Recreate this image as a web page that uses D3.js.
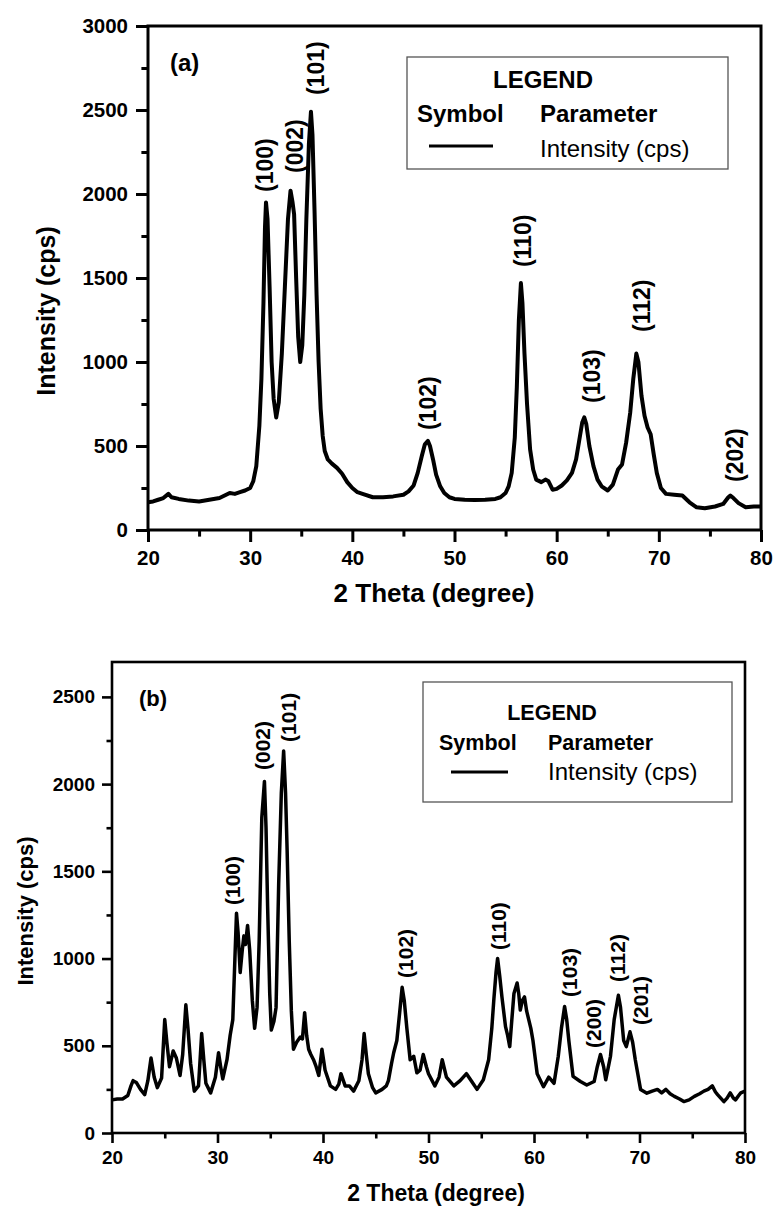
<!DOCTYPE html>
<html>
<head>
<meta charset="utf-8">
<script src="https://cdn.jsdelivr.net/npm/d3@7"></script>
<style>
  body { margin: 0; background: #fff; }
  svg { display: block; font-family: "Liberation Sans", Arial, sans-serif; }
</style>
</head>
<body>
<div id="chart"></div>
<script>
// ---- data ----
// panel (a)
var thetaA = [20.0, 20.5, 21.0, 21.5, 22.0, 22.3, 23.0, 24.0, 25.0, 26.0, 27.0, 27.5, 28.0, 28.5, 29.0, 29.5, 30.0, 30.3, 30.6, 30.9,
  31.1, 31.3, 31.45, 31.55, 31.7, 31.9, 32.1, 32.3, 32.55, 32.8, 33.1, 33.4, 33.7, 33.95, 34.15, 34.3, 34.5, 34.7, 34.9, 35.1,
  35.3, 35.5, 35.75, 35.95, 36.1, 36.3, 36.5, 36.7, 36.9, 37.1, 37.3, 37.6, 38.0, 38.5, 39.0, 39.5, 40.0, 40.5, 41.0, 42.0,
  43.0, 44.0, 45.0, 45.5, 46.0, 46.4, 46.8, 47.1, 47.4, 47.6, 47.9, 48.2, 48.6, 49.0, 49.5, 50.0, 51.0, 52.0, 53.0, 54.0,
  54.5, 55.0, 55.3, 55.6, 55.9, 56.1, 56.3, 56.5, 56.65, 56.85, 57.1, 57.4, 57.7, 58.0, 58.5, 58.9, 59.2, 59.6, 60.0, 60.5,
  61.0, 61.5, 61.9, 62.2, 62.5, 62.7, 62.9, 63.2, 63.6, 64.0, 64.4, 65.0, 65.5, 66.0, 66.4, 66.8, 67.2, 67.5, 67.8, 68.0,
  68.3, 68.6, 68.9, 69.2, 69.5, 69.8, 70.2, 70.7, 71.5, 72.3, 73.0, 73.7, 74.5, 75.5, 76.3, 76.8, 77.0, 77.3, 77.8, 78.5,
  79.3, 80.0];
var intensityA = [165, 170, 180, 190, 215, 195, 185, 175, 170, 180, 190, 205, 220, 215, 225, 235, 250, 290, 380, 620,
  900, 1350, 1800, 1950, 1850, 1450, 1000, 780, 670, 760, 1050, 1450, 1850, 2020, 1950, 1880, 1500, 1150, 1000, 1100,
  1400, 1850, 2300, 2490, 2350, 1900, 1400, 1000, 720, 560, 470, 420, 395, 370, 335, 285, 250, 225, 215, 195,
  195, 200, 210, 230, 265, 340, 440, 510, 530, 500, 420, 330, 260, 220, 195, 185, 180, 178, 180, 185,
  195, 220, 260, 340, 550, 850, 1250, 1470, 1350, 1050, 750, 480, 360, 300, 285, 300, 290, 240, 245, 265,
  295, 340, 420, 530, 640, 670, 630, 500, 380, 300, 260, 235, 270, 360, 390, 520, 700, 900, 1050, 1000,
  800, 680, 610, 570, 450, 340, 250, 215, 210, 205, 165, 135, 130, 140, 155, 195, 205, 190, 160, 135,
  140, 140];
var peakNamesA = ["(100)", "(002)", "(101)", "(102)", "(110)", "(103)", "(112)", "(202)"];
var peakThetaA = [31.45, 34.38, 36.44, 47.4, 56.7, 63.45, 68.34, 77.44];
var peakLevelA = [2012, 2125, 2589, 595, 1565, 756, 1179, 286];

// panel (b)
var thetaB = [20.0, 20.5, 21.0, 21.5, 21.8, 22.0, 22.3, 22.7, 23.1, 23.4, 23.7, 24.0, 24.3, 24.7, 25.0, 25.2, 25.45, 25.8, 26.1, 26.45,
  26.7, 27.0, 27.2, 27.45, 27.8, 28.2, 28.5, 28.7, 28.9, 29.35, 29.8, 30.1, 30.3, 30.5, 30.9, 31.2, 31.45, 31.65, 31.8, 31.95,
  32.15, 32.35, 32.5, 32.65, 32.85, 33.05, 33.3, 33.52, 33.75, 33.95, 34.2, 34.45, 34.6, 34.75, 34.95, 35.1, 35.35, 35.55, 35.8, 36.05,
  36.27, 36.45, 36.6, 36.8, 37.0, 37.2, 37.5, 37.85, 38.05, 38.26, 38.45, 38.64, 38.85, 39.1, 39.35, 39.6, 39.9, 40.2, 40.7, 41.2,
  41.5, 41.7, 42.1, 42.5, 42.9, 43.4, 43.7, 43.9, 44.1, 44.3, 44.7, 45.0, 45.6, 46.0, 46.2, 46.5, 46.7, 47.0, 47.25, 47.5,
  47.7, 47.95, 48.26, 48.6, 48.9, 49.2, 49.5, 49.8, 50.0, 50.6, 51.0, 51.3, 51.7, 52.4, 53.0, 53.6, 54.1, 54.6, 55.2, 55.7,
  56.0, 56.2, 56.4, 56.55, 56.75, 56.96, 57.3, 57.5, 57.7, 57.9, 58.1, 58.4, 58.55, 58.7, 58.9, 59.1, 59.3, 59.5, 59.7, 59.9,
  60.3, 60.9, 61.4, 61.9, 62.3, 62.6, 62.9, 63.1, 63.3, 63.7, 64.4, 65.0, 65.7, 66.0, 66.3, 66.6, 66.8, 67.25, 67.6, 68.0,
  68.2, 68.5, 68.75, 69.1, 69.35, 69.6, 70.1, 70.7, 71.2, 71.7, 72.1, 72.5, 72.9, 73.3, 73.8, 74.2, 74.7, 75.2, 75.7, 76.1,
  76.5, 76.9, 77.2, 77.4, 77.7, 78.0, 78.3, 78.6, 78.9, 79.1, 79.4, 79.6, 80.0];
var intensityB = [190, 195, 195, 215, 270, 300, 290, 250, 220, 300, 430, 320, 260, 315, 650, 520, 380, 470, 430, 330,
  450, 735, 600, 400, 240, 270, 570, 420, 285, 230, 320, 460, 380, 310, 420, 560, 650, 1000, 1260, 1150,
  920, 1050, 1130, 1080, 1190, 1050, 760, 600, 720, 1100, 1810, 2015, 1750, 1300, 800, 590, 640, 720, 1430, 1950,
  2190, 1950, 1620, 1100, 700, 480, 520, 550, 540, 690, 560, 480, 450, 420, 380, 330, 480, 360, 270, 250,
  280, 340, 270, 270, 240, 300, 420, 570, 450, 340, 260, 230, 250, 270, 300, 400, 460, 530, 680, 835,
  760, 600, 420, 440, 345, 360, 450, 380, 340, 270, 320, 420, 320, 270, 300, 340, 295, 250, 305, 420,
  600, 770, 920, 1000, 900, 780, 610, 560, 495, 650, 800, 860, 800, 705, 760, 780, 700, 650, 600, 530,
  340, 265, 320, 285, 440, 600, 725, 650, 530, 325, 295, 275, 295, 380, 450, 380, 305, 440, 650, 790,
  720, 530, 495, 580, 520, 420, 250, 228, 240, 250, 230, 250, 225, 210, 195, 180, 190, 210, 225, 240,
  250, 270, 235, 220, 200, 180, 200, 230, 200, 190, 215, 230, 240];
var peakNamesB = ["(100)", "(002)", "(101)", "(102)", "(110)", "(103)", "(200)", "(112)", "(201)"];
var peakThetaB = [31.37, 34.22, 36.68, 47.77, 56.59, 63.32, 65.59, 67.87, 70.05];
var peakLevelB = [1307, 2081, 2242, 889, 1049, 780, 487, 866, 619];

var xMajor = [20, 30, 40, 50, 60, 70, 80];
var xMinor = [25, 35, 45, 55, 65, 75];
var yMajorA = [0, 500, 1000, 1500, 2000, 2500, 3000];
var yMinorA = [250, 750, 1250, 1750, 2250, 2750];
var yMajorB = [0, 500, 1000, 1500, 2000, 2500];
var yMinorB = [250, 750, 1250, 1750, 2250];

// ---- drawing ----
var svg = d3.select("#chart")
  .append("svg")
  .attr("width", 774)
  .attr("height", 1207);

svg.append("rect").attr("width", 774).attr("height", 1207).attr("fill", "#fff");

function drawPanel(p) {
  var x = d3.scaleLinear().domain([20, 80]).range([p.left, p.right]);
  var y = d3.scaleLinear().domain([0, p.yMax]).range([p.bottom, p.top]);
  var g = svg.append("g");

  // axes (major + minor)
  g.append("g")
    .attr("transform", "translate(0," + p.bottom + ")")
    .call(d3.axisBottom(x).tickValues(xMajor).tickSize(p.tick).tickPadding(p.xPad).tickFormat(d3.format("d")));
  g.append("g")
    .attr("transform", "translate(0," + p.bottom + ")")
    .call(d3.axisBottom(x).tickValues(xMinor).tickSize(p.tick * 0.55).tickFormat(""));
  g.append("g")
    .attr("transform", "translate(" + p.left + ",0)")
    .call(d3.axisLeft(y).tickValues(p.yMajor).tickSize(p.tick).tickPadding(p.yPad).tickFormat(d3.format("d")));
  g.append("g")
    .attr("transform", "translate(" + p.left + ",0)")
    .call(d3.axisLeft(y).tickValues(p.yMinor).tickSize(p.tick * 0.55).tickFormat(""));

  g.selectAll(".domain").remove();
  g.selectAll(".tick line").attr("stroke", "#000").attr("stroke-width", p.frame);
  g.selectAll(".tick text")
    .attr("fill", "#000")
    .style("font-size", p.tickFont + "px")
    .style("font-weight", "bold")
    .style("font-family", "'Liberation Sans', Arial, sans-serif");

  // curve
  var line = d3.line()
    .x(function(d) { return x(d[0]); })
    .y(function(d) { return y(d[1]); });
  g.append("path")
    .datum(d3.zip(p.theta, p.intensity))
    .attr("d", line)
    .attr("fill", "none")
    .attr("stroke", "#000")
    .attr("stroke-width", p.curveWidth)
    .attr("stroke-linejoin", "round");

  // frame
  g.append("rect")
    .attr("x", p.left).attr("y", p.top)
    .attr("width", p.right - p.left).attr("height", p.bottom - p.top)
    .attr("fill", "none").attr("stroke", "#000").attr("stroke-width", p.frame);

  // peak labels
  g.selectAll(".peak")
    .data(p.names)
    .enter()
    .append("text")
    .attr("class", "peak")
    .attr("transform", function(d, i) {
      return "translate(" + x(p.peakTheta[i]) + "," + y(p.peakLevel[i]) + ") rotate(-90)";
    })
    .attr("dy", "0.36em")
    .style("font-size", p.peakFont + "px")
    .style("font-weight", "bold")
    .text(function(d) { return d; });

  // panel tag
  g.append("text")
    .attr("x", p.tagX).attr("y", p.tagY)
    .style("font-size", p.tagFont + "px")
    .style("font-weight", "bold")
    .text(p.tag);

  // axis titles
  g.append("text")
    .attr("x", p.xTitleX).attr("y", p.xTitleY)
    .attr("text-anchor", "middle")
    .style("font-size", p.titleFont + "px")
    .style("font-weight", "bold")
    .text("2 Theta (degree)");
  g.append("text")
    .attr("transform", "translate(" + p.yTitleX + "," + p.yTitleY + ") rotate(-90)")
    .attr("text-anchor", "middle")
    .style("font-size", p.yTitleFont + "px")
    .style("font-weight", "bold")
    .text("Intensity (cps)");

  // legend box
  var L = p.legend;
  g.append("rect")
    .attr("x", L.x0).attr("y", L.y0)
    .attr("width", L.x1 - L.x0).attr("height", L.y1 - L.y0)
    .attr("fill", "#fff").attr("stroke", "#555").attr("stroke-width", 1.3);
  g.append("text")
    .attr("x", L.cx).attr("y", L.row1)
    .attr("text-anchor", "middle")
    .style("font-size", L.bold + "px").style("font-weight", "bold")
    .text("LEGEND");
  g.append("text")
    .attr("x", L.col1).attr("y", L.row2)
    .style("font-size", L.bold + "px").style("font-weight", "bold")
    .text("Symbol");
  g.append("text")
    .attr("x", L.col2).attr("y", L.row2)
    .style("font-size", L.bold + "px").style("font-weight", "bold")
    .text("Parameter");
  g.append("line")
    .attr("x1", L.lx0).attr("x2", L.lx1)
    .attr("y1", L.ly).attr("y2", L.ly)
    .attr("stroke", "#000").attr("stroke-width", 3);
  g.append("text")
    .attr("x", L.col2).attr("y", L.row3)
    .style("font-size", L.reg + "px")
    .text("Intensity (cps)");
}

drawPanel({
  left: 148, right: 761, top: 26, bottom: 530, yMax: 3000,
  yMajor: yMajorA, yMinor: yMinorA,
  theta: thetaA, intensity: intensityA,
  names: peakNamesA, peakTheta: peakThetaA, peakLevel: peakLevelA,
  frame: 3, tick: 12, xPad: 8, yPad: 8, tickFont: 20.5, peakFont: 23, curveWidth: 4,
  tag: "(a)", tagX: 170, tagY: 71, tagFont: 24,
  xTitleX: 434, xTitleY: 602, titleFont: 26,
  yTitleX: 55, yTitleY: 311, yTitleFont: 25,
  legend: { x0: 407, x1: 728, y0: 57, y1: 169, cx: 543, row1: 88, row2: 122, row3: 157,
            col1: 417, col2: 540, lx0: 429, lx1: 493, ly: 146, bold: 24, reg: 24 }
});

drawPanel({
  left: 112, right: 745, top: 662, bottom: 1133, yMax: 2700,
  yMajor: yMajorB, yMinor: yMinorB,
  theta: thetaB, intensity: intensityB,
  names: peakNamesB, peakTheta: peakThetaB, peakLevel: peakLevelB,
  frame: 2.6, tick: 10, xPad: 8, yPad: 7, tickFont: 19, peakFont: 21, curveWidth: 3.5,
  tag: "(b)", tagX: 139, tagY: 706, tagFont: 22,
  xTitleX: 436, xTitleY: 1201, titleFont: 23,
  yTitleX: 33, yTitleY: 911, yTitleFont: 22,
  legend: { x0: 423, x1: 732, y0: 682, y1: 802, cx: 552, row1: 720, row2: 750, row3: 780,
            col1: 439, col2: 548, lx0: 451, lx1: 508, ly: 772, bold: 21.5, reg: 24 }
});
</script>
</body>
</html>
